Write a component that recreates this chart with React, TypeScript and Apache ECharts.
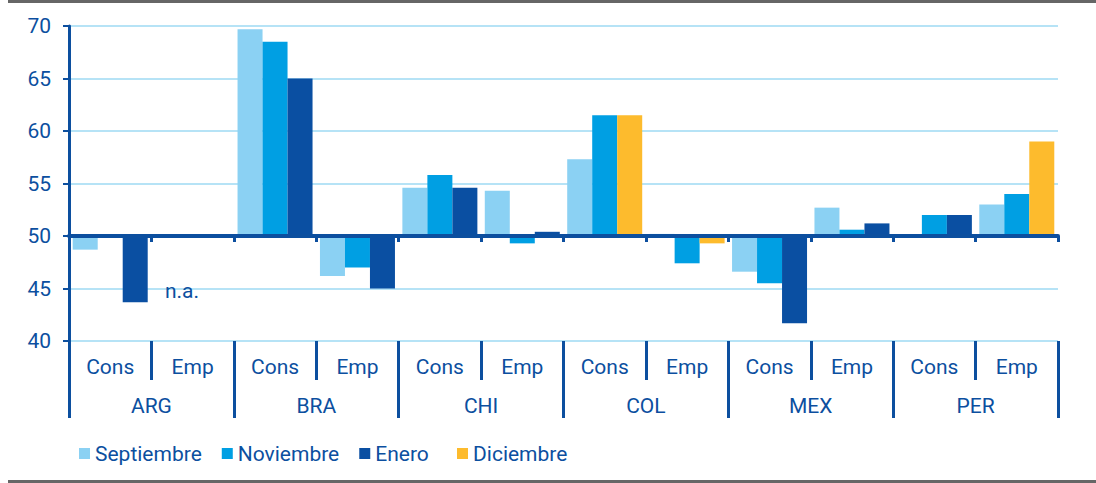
import React, { useEffect, useRef } from 'react';
import * as echarts from 'echarts';

const countries = ['ARG', 'BRA', 'CHI', 'COL', 'MEX', 'PER'];
const surveys = ['Cons', 'Emp'];
const categories = countries.flatMap((c) => surveys.map((s) => `${c} ${s}`));
const surveyLabels = countries.flatMap(() => surveys);
const baseline = 50;
const yMin = 40;
const yMax = 70;
const yStep = 5;

const septiembre = [48.7, null, 69.7, 46.2, 54.6, 54.3, 57.3, 50.2, 46.6, 52.7, null, 53.0];
const noviembre = [null, null, 68.5, 47.0, 55.8, 49.3, 61.5, 47.4, 45.5, 50.6, 52.0, 54.0];
const enero = [43.7, null, 65.0, 45.0, 54.6, 50.4, null, null, 41.7, 51.2, 52.0, null];
const diciembre = [null, null, null, null, null, null, 61.5, 49.3, null, null, null, 59.0];
const naLabel = 'n.a.';

const BLUE = '#0c4f9f';
const FONT = 'Roboto, sans-serif';

const rel = (arr: (number | null)[]) =>
  arr.map((v) => (v == null ? '-' : +(v - baseline).toFixed(2)));

export default function App() {
  const ref = useRef<HTMLDivElement>(null);

  useEffect(() => {
    document.body.style.margin = '0';
    if (!ref.current) return;
    const chart = echarts.init(ref.current, null, { renderer: 'svg' });

    const textBase = { fontSize: 21, color: BLUE, fontFamily: FONT };
    const legendBase = {
      top: 438,
      icon: 'rect',
      itemWidth: 11,
      itemHeight: 11,
      itemGap: 20,
      textStyle: { ...textBase },
    };

    const option: any = {
      animation: false,
      grid: { left: 69, right: 38, top: 26, bottom: 142, containLabel: false },
      legend: [
        { ...legendBase, left: 74, data: ['Septiembre', 'Noviembre', 'Enero'] },
        { ...legendBase, left: 452, data: ['Diciembre'] },
      ],
      xAxis: [
        {
          type: 'category',
          data: categories,
          z: 10,
          axisLine: { show: true, onZero: true, lineStyle: { color: BLUE, width: 4 } },
          axisTick: { show: true, length: 6, interval: 0, lineStyle: { color: BLUE, width: 3 } },
          axisLabel: { show: false },
          splitLine: { show: false },
        },
        {
          type: 'category',
          data: surveyLabels,
          position: 'bottom',
          axisLine: { show: false, onZero: false },
          axisTick: { show: true, length: 39, interval: 0, lineStyle: { color: BLUE, width: 3 } },
          axisLabel: { interval: 0, margin: 15, ...textBase },
          splitLine: { show: false },
        },
        {
          type: 'category',
          data: countries,
          position: 'bottom',
          axisLine: { show: false, onZero: false },
          axisTick: { show: true, length: 77, interval: 0, lineStyle: { color: BLUE, width: 3 } },
          axisLabel: { interval: 0, margin: 54, ...textBase },
          splitLine: { show: false },
        },
      ],
      yAxis: {
        type: 'value',
        min: yMin - baseline,
        max: yMax - baseline,
        interval: yStep,
        axisLine: { show: true, onZero: false, lineStyle: { color: BLUE, width: 3 } },
        axisTick: { show: true, length: 6, lineStyle: { color: BLUE, width: 2 } },
        axisLabel: {
          margin: 18,
          ...textBase,
          formatter: (v: number) => String(v + baseline),
        },
        splitLine: { show: true, lineStyle: { color: '#b6e3f6', width: 2 } },
      },
      series: [
        { name: 'Septiembre', type: 'bar', data: rel(septiembre), itemStyle: { color: '#8bd1f3' } },
        { name: 'Noviembre', type: 'bar', data: rel(noviembre), itemStyle: { color: '#009fe3' } },
        { name: 'Enero', type: 'bar', stack: 'third', data: rel(enero), itemStyle: { color: '#0a4fa2' } },
        { name: 'Diciembre', type: 'bar', stack: 'third', data: rel(diciembre), itemStyle: { color: '#fdbb2d' } },
      ].map((s) => ({ ...s, barWidth: 25, barGap: '0%' })),
      graphic: [
        {
          type: 'line',
          shape: { x1: 8, y1: 1.5, x2: 1096, y2: 1.5 },
          style: { stroke: '#666666', lineWidth: 3 },
        },
        {
          type: 'line',
          shape: { x1: 8, y1: 481.5, x2: 1096, y2: 481.5 },
          style: { stroke: '#666666', lineWidth: 3 },
        },
        {
          type: 'text',
          x: 182,
          y: 291,
          z: 20,
          style: {
            text: naLabel,
            fill: BLUE,
            fontSize: 21,
            fontFamily: FONT,
            textAlign: 'center',
            textVerticalAlign: 'middle',
          },
        },
      ],
    };

    chart.setOption(option);
    return () => chart.dispose();
  }, []);

  return <div ref={ref} style={{ width: 1096, height: 483 }} />;
}
